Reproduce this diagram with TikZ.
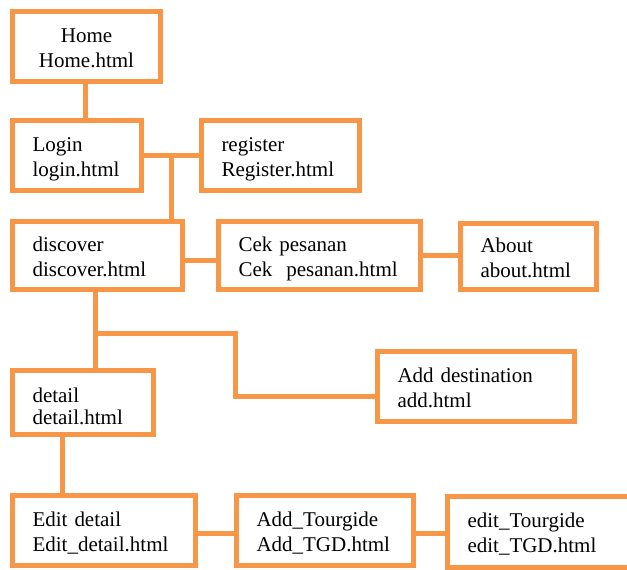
\documentclass[tikz,border=0pt]{standalone}
\usepackage{fontspec}
\setmainfont{Liberation Serif}
\usetikzlibrary{calc}
\definecolor{SiteOrange}{HTML}{F79646}

\begin{document}
\begin{tikzpicture}[x=1pt, y=-1pt, line width=5pt, color=SiteOrange,
      every node/.append style={anchor=north west, outer sep=0pt, inner ysep=0pt, inner xsep=20pt, align=left,
        text height=19pt, text depth=28pt, font=\fontsize{21}{25}\selectfont},
      page/.style={draw, rectangle, text=black}]
    \useasboundingbox (0,0) rectangle (627,570);
    \clip (0,0) rectangle (627,570);
    \node (home) [page, align=center, minimum width=148pt, text width=108pt, minimum height=70pt] at (12.5,11.5) {Home\\Home.html};
    \node (login) [page, minimum width=129pt, text width=89pt, minimum height=70pt] at (12.5,120.5) {Login\\login.html};
    \node (register) [page, minimum width=158pt, text width=118pt, minimum height=70pt] at (201.5,120.5) {register\\Register.html};
    \node (discover) [page, minimum width=170pt, text width=130pt, minimum height=68pt] at (12.5,221.5) {discover\\discover.html};
    \node (cek) [page, minimum width=202pt, text width=162pt, minimum height=68pt] at (218.5,221.5) {Cek pesanan\\Cek\ \ pesanan.html};
    \node (about) [page, minimum width=136pt, text width=96pt, minimum height=66pt] at (460.5,223.5) {About\\about.html};
    \node (add) [page, minimum width=197pt, text width=157pt, minimum height=70pt] at (377.5,351.5) {Add destination\\add.html};
    \node (detail) [page, minimum width=141pt, text width=101pt, minimum height=64pt,
      font=\fontsize{21}{22}\selectfont, text height=24pt, text depth=25pt] at (12.5,370.5) {detail\\detail.html};
    \node (edit) [page, minimum width=183pt, text width=143pt, minimum height=70pt] at (12.5,495.5) {Edit detail\\Edit\_detail.html};
    \node (addtgd) [page, minimum width=177pt, text width=137pt, minimum height=70pt] at (236.5,495.5) {Add\_Tourgide\\Add\_TGD.html};
    \node (edittgd) [page, minimum width=202.5pt, text width=162.5pt, minimum height=71pt] at (447.5,496.5) {edit\_Tourgide\\edit\_TGD.html};

    \draw ([xshift=-1.5pt]home.south) -- ([xshift=-1.5pt]home.south |- login.north);
    \draw (login.east) -- (register.west);
    \coordinate (loginjoin) at ($(login.east)!0.5!(register.west)$);
    \draw (loginjoin) -- (loginjoin |- discover.north);
    \draw ([yshift=-4.5pt]discover.east) -- ([yshift=-4.5pt]discover.east -| cek.west);
    \draw (cek.east) -- (cek.east -| about.west);
    \coordinate (discoverdown) at ([xshift=-2.5pt]discover.south);
    \draw (discoverdown) -- (discoverdown |- detail.north);
    \coordinate (addjoin) at ($(discoverdown)!0.54!(discoverdown |- detail.north)$);
    \draw (addjoin) -| ([xshift=-142.5pt,yshift=-9.5pt]add.west) -- ([yshift=-9.5pt]add.west);
    \draw ([xshift=-21pt]detail.south) -- ([xshift=-21pt]detail.south |- edit.north);
    \draw ([yshift=-2.5pt]edit.east) -- ([yshift=-2.5pt]edit.east -| addtgd.west);
    \draw ([yshift=-2.5pt]addtgd.east) -- ([yshift=-2.5pt]addtgd.east -| edittgd.west);
\end{tikzpicture}
\end{document}
